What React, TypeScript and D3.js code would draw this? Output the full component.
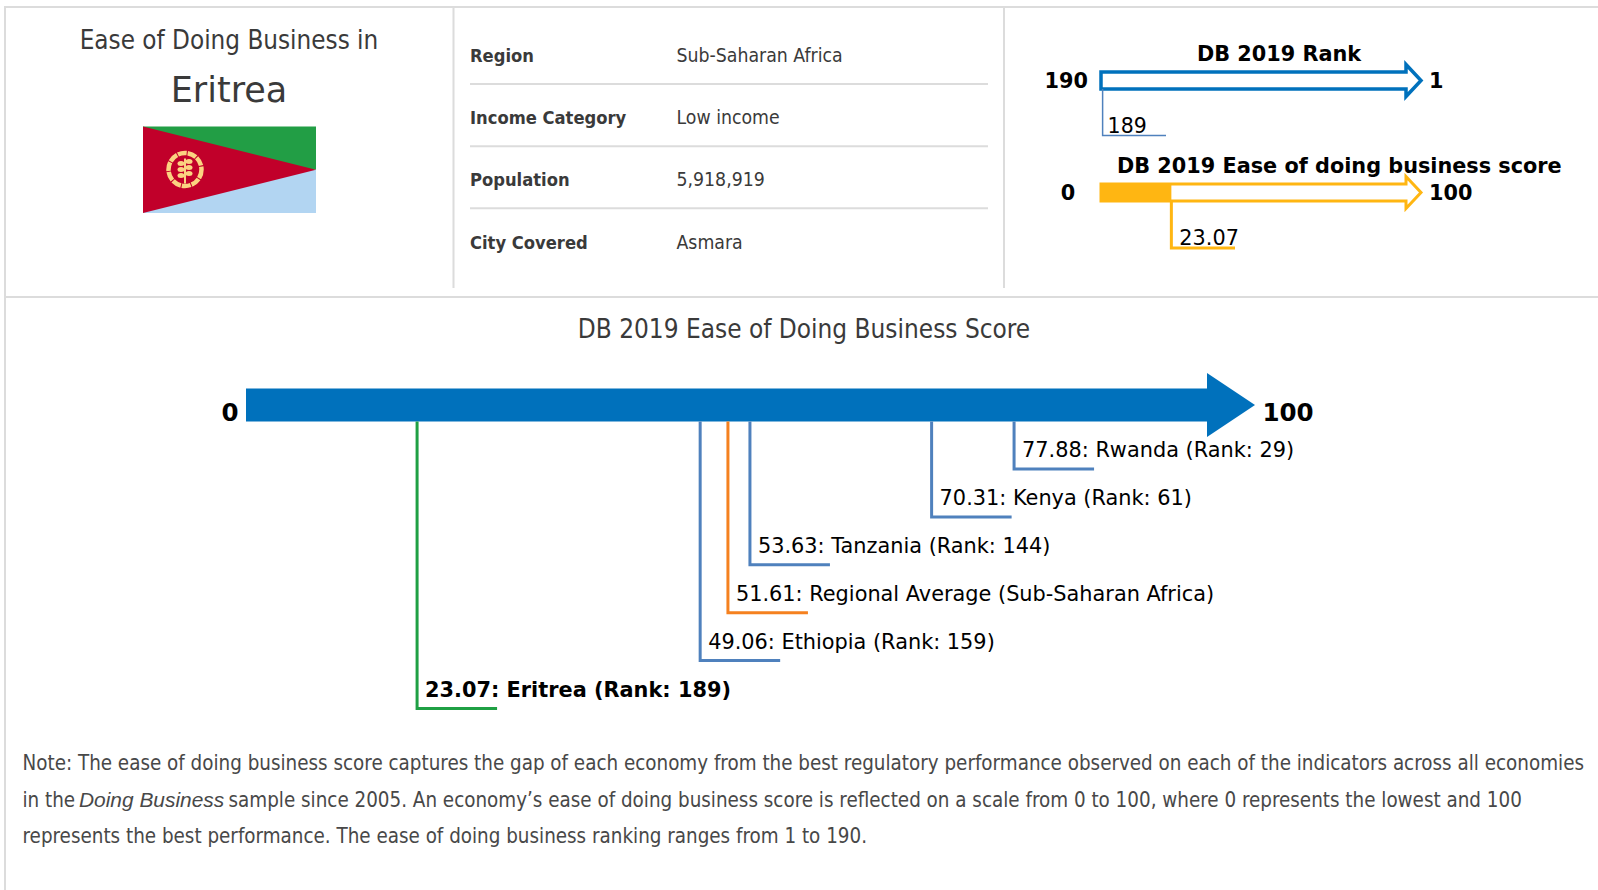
import React, { useEffect, useRef } from 'react';
import * as d3 from 'd3';

const economies = ['Rwanda', 'Kenya', 'Tanzania', 'Regional Average (Sub-Saharan Africa)', 'Ethiopia', 'Eritrea'];
const scores = [77.88, 70.31, 53.63, 51.61, 49.06, 23.07];
const ranks = [29, 61, 144, null, 159, 189];

const infoLabels = ['Region', 'Income Category', 'Population', 'City Covered'];
const infoValues = ['Sub-Saharan Africa', 'Low income', '5,918,919', 'Asmara'];

const eritreaRank = 189;
const eritreaScore = 23.07;

const noteLine1 = 'Note: The ease of doing business score captures the gap of each economy from the best regulatory performance observed on each of the indicators across all economies';
const noteLine2a = 'in the';
const noteLine2b = 'Doing Business';
const noteLine2c = 'sample since 2005. An economy’s ease of doing business score is reflected on a scale from 0 to 100, where 0 represents the lowest and 100';
const noteLine3 = 'represents the best performance. The ease of doing business ranking ranges from 1 to 190.';

const FONT = '"DejaVu Sans", sans-serif';
const COND = '"DejaVu Sans Condensed", "DejaVu Sans", sans-serif';

const App = () => {
  const svgRef = useRef<SVGSVGElement>(null);

  useEffect(() => {
    const svg = d3.select(svgRef.current);
    svg.selectAll('*').remove();
    svg.style('font-family', FONT);

    const text = (x: number, y: number, s: string, size: number, opts: any = {}) =>
      svg.append('text')
        .attr('x', x)
        .attr('y', y)
        .attr('font-size', size)
        .attr('fill', opts.fill || '#000')
        .attr('font-weight', opts.weight || 'normal')
        .attr('text-anchor', opts.anchor || 'start')
        .style('font-family', opts.family || FONT)
        .text(s);

    // panel borders
    const border = '#dcdcdc';
    const rule = (x1: number, y1: number, x2: number, y2: number, w = 2) =>
      svg.append('line').attr('x1', x1).attr('y1', y1).attr('x2', x2).attr('y2', y2)
        .attr('stroke', border).attr('stroke-width', w);
    rule(5, 7, 1598, 7);
    rule(5, 6, 5, 890);
    rule(453.5, 7, 453.5, 288);
    rule(1004, 7, 1004, 288);
    rule(5, 297, 1598, 297);

    // left panel
    text(229, 48.5, 'Ease of Doing Business in', 25.8, { anchor: 'middle', fill: '#3a3a3a', family: COND });
    text(229, 102, 'Eritrea', 35, { anchor: 'middle', fill: '#3a3a3a' });

    const flag = svg.append('g').attr('transform', 'translate(143,126.5)');
    const fw = 173, fh = 86.5;
    flag.append('rect').attr('width', fw).attr('height', fh / 2).attr('fill', '#229e45');
    flag.append('rect').attr('y', fh / 2).attr('width', fw).attr('height', fh / 2).attr('fill', '#b2d5f2');
    flag.append('path').attr('d', `M0,0L${fw},${fh / 2}L0,${fh}Z`).attr('fill', '#c1002a');
    const emblem = flag.append('g').attr('transform', 'translate(42,43)').attr('fill', 'none').attr('stroke', '#fbd381');
    emblem.append('circle').attr('r', 16.5).attr('stroke-width', 4.5).attr('stroke-dasharray', '9 1');
    emblem.append('line').attr('y1', -11).attr('y2', 14).attr('stroke-width', 2);
    [-6, 0, 6].forEach(dy => {
      emblem.append('ellipse').attr('cx', -4).attr('cy', dy).attr('rx', 3.5).attr('ry', 2.5).attr('fill', '#fbd381').attr('stroke', 'none');
      emblem.append('ellipse').attr('cx', 4).attr('cy', dy - 2).attr('rx', 3.5).attr('ry', 2.5).attr('fill', '#fbd381').attr('stroke', 'none');
    });

    // info table
    const rowY = d3.scalePoint<string>().domain(infoLabels).range([62, 248.5]);
    infoLabels.forEach((label, i) => {
      const y = rowY(label)!;
      text(470, y, label, 18.2, { weight: 'bold', fill: '#3a3a3a', family: COND });
      text(676.5, y, infoValues[i], 19.3, { fill: '#3a3a3a', family: COND });
      if (i < infoLabels.length - 1) {
        svg.append('line').attr('x1', 470).attr('x2', 988).attr('y1', y + 22).attr('y2', y + 22)
          .attr('stroke', border).attr('stroke-width', 2);
      }
    });

    // small gauges
    const hollowArrow = (x0: number, shaftEnd: number, tip: number, cy: number, half: number, headHalf: number) =>
      `M${x0},${cy - half}H${shaftEnd}V${cy - headHalf}L${tip},${cy}L${shaftEnd},${cy + headHalf}V${cy + half}H${x0}Z`;

    const rankX = d3.scaleLinear().domain([190, 1]).range([1101, 1406]);
    const smallScoreX = d3.scaleLinear().domain([0, 100]).range([1101, 1406]);

    text(1279, 61, 'DB 2019 Rank', 20.8, { anchor: 'middle', weight: 'bold' });
    text(1088, 88, '190', 20.8, { anchor: 'end', weight: 'bold' });
    text(1429, 88, '1', 20.8, { weight: 'bold' });
    svg.append('path').attr('d', hollowArrow(rankX(190), 1406, 1421, 80.5, 8.5, 16))
      .attr('fill', '#fff').attr('stroke', '#0071bc').attr('stroke-width', 3.5);
    svg.append('path')
      .attr('d', `M${rankX(eritreaRank)},89V135.5H1166`)
      .attr('fill', 'none').attr('stroke', '#4f81bd').attr('stroke-width', 1.5);
    text(rankX(eritreaRank) + 5, 133, String(eritreaRank), 20.5);

    text(1117, 173, 'DB 2019 Ease of doing business score', 20.8, { weight: 'bold' });
    text(1068, 200, '0', 20.8, { anchor: 'middle', weight: 'bold' });
    text(1429, 200, '100', 20.8, { weight: 'bold' });
    svg.append('path').attr('d', hollowArrow(1101, 1406, 1421, 192.5, 8.5, 16))
      .attr('fill', '#fff').attr('stroke', '#ffb612').attr('stroke-width', 3);
    svg.append('rect').attr('x', 1100).attr('y', 183).attr('width', smallScoreX(eritreaScore) - 1100).attr('height', 19)
      .attr('fill', '#ffb612');
    svg.append('path')
      .attr('d', `M${smallScoreX(eritreaScore)},200V248H1235`)
      .attr('fill', 'none').attr('stroke', '#ffb612').attr('stroke-width', 3);
    text(smallScoreX(eritreaScore) + 8, 245, String(eritreaScore), 20.8);

    // main gauge
    text(804, 337.5, 'DB 2019 Ease of Doing Business Score', 25.95, { anchor: 'middle', fill: '#3a3a3a', family: COND });

    const x = d3.scaleLinear().domain([0, 100]).range([165.8, 1255]);
    const y = d3.scalePoint<string>().domain(economies).range([469, 708.5]);
    const cy = 405;

    svg.append('path')
      .attr('d', `M246,${cy - 16.5}H1207V${cy - 32}L${x(100)},${cy}L1207,${cy + 32}V${cy + 16.5}H246Z`)
      .attr('fill', '#0071bc');
    text(238.5, 421, '0', 24.5, { anchor: 'end', weight: 'bold' });
    text(1262.5, 421, '100', 24.5, { weight: 'bold' });

    economies.forEach((name, i) => {
      const px = x(scores[i]);
      const py = y(name)!;
      const isEritrea = name === 'Eritrea';
      const isRegional = ranks[i] === null;
      svg.append('path')
        .attr('d', `M${px},${cy + 16.5}V${py}H${px + 80}`)
        .attr('fill', 'none')
        .attr('stroke', isEritrea ? '#1fa044' : isRegional ? '#f5811f' : '#4f81bd')
        .attr('stroke-width', 3);
      const label = isRegional ? `${scores[i]}: ${name}` : `${scores[i]}: ${name} (Rank: ${ranks[i]})`;
      text(px + 8, py - 12, label, 20.85, { weight: isEritrea ? 'bold' : 'normal' });
    });

    // note
    text(22.5, 769.5, noteLine1, 20.4, { fill: '#484848', family: COND });
    text(22.5, 806.5, noteLine2a, 20.4, { fill: '#484848', family: COND });
    text(79, 806.5, noteLine2b, 20.9, { fill: '#484848', family: '"Liberation Sans"' }).style('font-style', 'italic');
    text(228.5, 806.5, noteLine2c, 20.4, { fill: '#484848', family: COND });
    text(22.5, 843, noteLine3, 20.4, { fill: '#484848', family: COND });
  }, []);

  return <svg ref={svgRef} width={1598} height={890} style={{ position: 'absolute', left: 0, top: 0, background: '#fff' }}></svg>;
};

export default App;
